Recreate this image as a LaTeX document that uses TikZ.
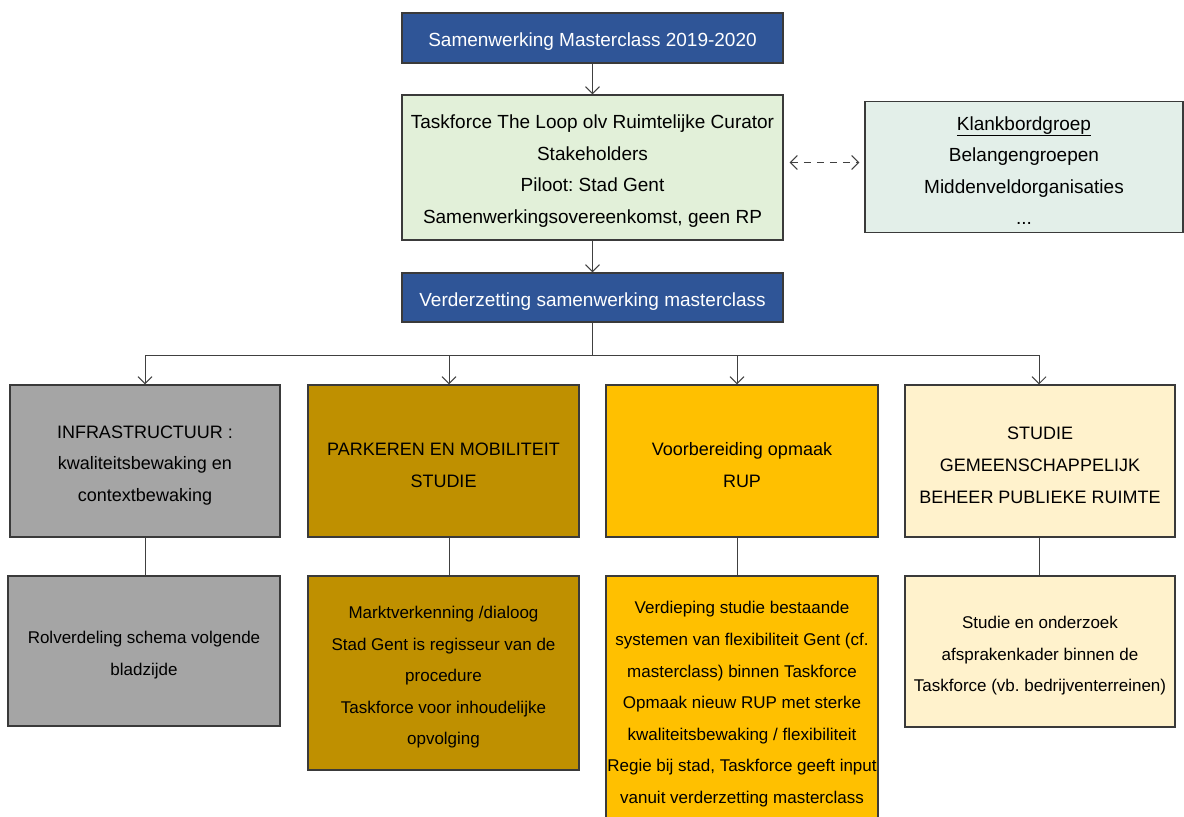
\documentclass[tikz,border=0pt]{standalone}
\usepackage{fontspec}
\setmainfont{Liberation Sans}
\usetikzlibrary{arrows.meta,positioning}
\definecolor{boxblue}{HTML}{2F5597}
\definecolor{boxgreen}{HTML}{E2F0D9}
\definecolor{boxteal}{HTML}{E3EFE9}
\definecolor{boxgray}{HTML}{A5A5A5}
\definecolor{boxdarkgold}{HTML}{BF9000}
\definecolor{boxgold}{HTML}{FFC000}
\definecolor{boxcream}{HTML}{FFF2CC}
\definecolor{boxline}{HTML}{3A3A3A}
\definecolor{connline}{HTML}{404040}
\newcommand{\topgap}{\rule{0pt}{21pt}}
\frenchspacing

\begin{document}
\begin{tikzpicture}[x=1pt,y=-1pt,
	box/.style={draw=boxline, line width=1.2pt, align=center, inner sep=0pt},
	bigtext/.style={font=\fontsize{19}{31.6}\selectfont},
	midtext/.style={font=\fontsize{18}{31.6}\selectfont},
	smalltext/.style={font=\fontsize{17}{31.6}\selectfont},
	conn/.style={draw=connline, line width=1pt},
	arr/.style={conn, -{Straight Barb[length=7pt,width=14pt]}}]
	\useasboundingbox (0,0) rectangle (1184,817);
	% top part
	\node[box, bigtext, fill=boxblue, text=white, minimum width=381pt, minimum height=50pt] (master) at (592.5,38) {\topgap Samenwerking Masterclass 2019-2020};
	\node[box, bigtext, fill=boxgreen, minimum width=381pt, minimum height=145pt] (taskforce) at (592.5,167.5) {\topgap Taskforce The Loop olv Ruimtelijke Curator\\Stakeholders\\Piloot: Stad Gent\\Samenwerkingsovereenkomst, geen RP};
	\node[box, bigtext, fill=boxteal, minimum width=318pt, minimum height=131pt] (klank) at (1024,167) {\topgap\underline{Klankbordgroep}\\Belangengroepen\\Middenveldorganisaties\\...};
	\node[box, bigtext, fill=boxblue, text=white, minimum width=381pt, minimum height=49pt] (verder) at (592.5,297.5) {\topgap Verderzetting samenwerking masterclass};
	% four themes
	\node[box, midtext, fill=boxgray, minimum width=270pt, minimum height=152pt] (infra) at (145,461) {\topgap INFRASTRUCTUUR :\\kwaliteitsbewaking en\\contextbewaking};
	\node[box, midtext, fill=boxdarkgold, minimum width=271pt, minimum height=152pt] (parkeren) at (443.5,461) {\topgap PARKEREN EN MOBILITEIT\\STUDIE};
	\node[box, midtext, fill=boxgold, minimum width=272pt, minimum height=152pt] (rup) at (742,461) {\topgap Voorbereiding opmaak\\RUP};
	\node[box, midtext, fill=boxcream, minimum width=270pt, minimum height=152pt] (beheer) at (1040,461) {\topgap STUDIE\\GEMEENSCHAPPELIJK\\BEHEER PUBLIEKE RUIMTE};
	% details
	\node[box, smalltext, fill=boxgray, minimum width=272pt, minimum height=150pt] (infradet) at (144,651) {\topgap Rolverdeling schema volgende\\bladzijde};
	\node[box, smalltext, fill=boxdarkgold, minimum width=271pt, minimum height=194pt] (parkerendet) at (443.5,673) {\topgap Marktverkenning /dialoog\\Stad Gent is regisseur van de\\procedure\\Taskforce voor inhoudelijke\\opvolging};
	\node[box, smalltext, fill=boxgold, minimum width=272pt, minimum height=248pt] (rupdet) at (742,700) {\topgap Verdieping studie bestaande\\systemen van flexibiliteit Gent (cf.\\masterclass) binnen Taskforce\\Opmaak nieuw RUP met sterke\\kwaliteitsbewaking / flexibiliteit\\Regie bij stad, Taskforce geeft input\\vanuit verderzetting masterclass};
	\node[box, smalltext, fill=boxcream, minimum width=270pt, minimum height=151pt] (beheerdet) at (1040,651.5) {\topgap Studie en onderzoek\\afsprakenkader binnen de\\Taskforce (vb. bedrijventerreinen)};
	% connectors
	\draw[arr] (master) -- (taskforce);
	\draw[arr] (taskforce) -- (verder);
	\draw[conn, dash pattern=on 7pt off 6pt, shorten <=6pt, shorten >=5pt,
		{Straight Barb[length=7pt,width=14pt]}-{Straight Barb[length=7pt,width=14pt]}]
		([yshift=5pt]taskforce.east) -- ([yshift=5pt]taskforce.east -| klank.west);
	\coordinate (split) at (592.5,355);
	\draw[conn] (verder.south) -- (split);
	\draw[arr] (split) -| (infra.north);
	\draw[arr] (split) -| ([xshift=5.5pt]parkeren.north);
	\draw[arr] (split) -| ([xshift=-5pt]rup.north);
	\draw[arr] (split) -| ([xshift=-1pt]beheer.north);
	\draw[conn] (infra.south) -- (infra.south |- infradet.north);
	\draw[conn] ([xshift=5.5pt]parkeren.south) -- ([xshift=5.5pt]parkeren.south |- parkerendet.north);
	\draw[conn] ([xshift=-5pt]rup.south) -- ([xshift=-5pt]rup.south |- rupdet.north);
	\draw[conn] ([xshift=-1pt]beheer.south) -- ([xshift=-1pt]beheer.south |- beheerdet.north);
\end{tikzpicture}
\end{document}
